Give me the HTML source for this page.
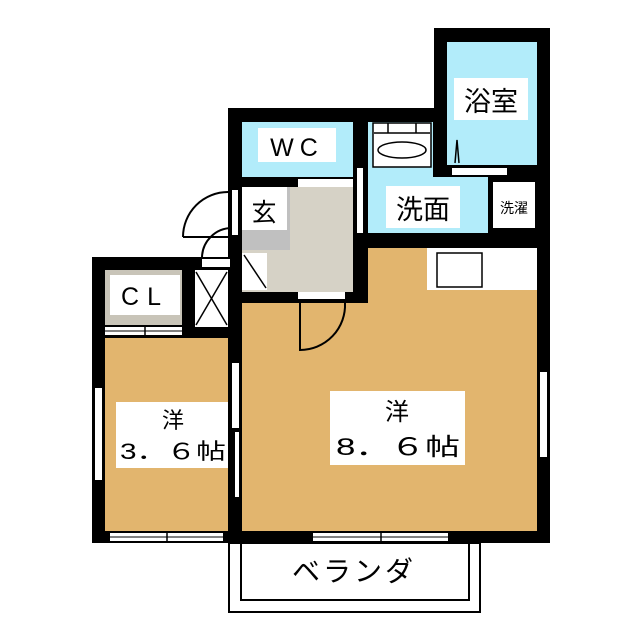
<!DOCTYPE html>
<html><head><meta charset="utf-8"><style>
html,body{margin:0;padding:0;background:#fff;}
svg{display:block;}
text{font-family:"Liberation Sans","Noto Sans CJK JP",sans-serif;fill:#000;}
</style></head><body>
<svg width="640" height="640" viewBox="0 0 640 640" xmlns="http://www.w3.org/2000/svg">
<rect x="434" y="28" width="116" height="220" fill="#000"/>
<rect x="228" y="108" width="322" height="435" fill="#000"/>
<rect x="92" y="257" width="150" height="286" fill="#000"/>
<rect x="447" y="42" width="90" height="123" fill="#b2ecfa"/>
<rect x="452" y="168" width="55" height="7" fill="#fff"/>
<path d="M455 163 L457 140 L459 163" fill="none" stroke="#000" stroke-width="1.5"/>
<rect x="242" y="122" width="111" height="55" fill="#b2ecfa"/>
<rect x="368" y="122" width="65" height="111" fill="#b2ecfa"/>
<rect x="368" y="177" width="120" height="56" fill="#b2ecfa"/>
<rect x="373" y="123" width="58" height="44" fill="#fff" stroke="#000" stroke-width="1.5"/>
<line x1="374" y1="133" x2="430" y2="133" stroke="#000" stroke-width="1.5"/>
<line x1="388" y1="123" x2="388" y2="133" stroke="#000" stroke-width="1.5"/>
<line x1="416" y1="123" x2="416" y2="133" stroke="#000" stroke-width="1.5"/>
<ellipse cx="402" cy="150" rx="24" ry="8" fill="#fff" stroke="#000" stroke-width="1.5"/>
<rect x="493" y="182" width="42" height="46" fill="#fff"/>
<rect x="357" y="168" width="6" height="65" fill="#fff"/>
<rect x="242" y="187" width="111" height="105" fill="#d6d2c6"/>
<rect x="242" y="187" width="48" height="63" fill="#c0c0c0"/>
<rect x="242" y="187" width="45" height="43" fill="#fff"/>
<rect x="242" y="253" width="25" height="37" fill="#fff"/>
<line x1="244" y1="255" x2="266" y2="288" stroke="#000" stroke-width="1.5"/>
<rect x="298" y="179" width="55" height="8" fill="#fff"/>
<rect x="298" y="292" width="47" height="7" fill="#fff"/>
<rect x="232" y="190" width="6" height="45" fill="#fff"/>
<path d="M183 237 A45 45 0 0 1 228 192" fill="none" stroke="#000" stroke-width="2"/>
<line x1="183" y1="237" x2="228" y2="237" stroke="#000" stroke-width="2"/>
<path d="M202 258 A30 30 0 0 1 232 228" fill="none" stroke="#000" stroke-width="2"/>
<rect x="202" y="259" width="28" height="8" fill="#fff"/>
<rect x="195" y="270" width="33" height="57" fill="#fff"/>
<line x1="196" y1="272" x2="227" y2="325" stroke="#000" stroke-width="1.5"/>
<line x1="227" y1="272" x2="196" y2="325" stroke="#000" stroke-width="1.5"/>
<rect x="105" y="270" width="77" height="55" fill="#c8c4b8"/>
<rect x="110" y="275" width="70" height="40" fill="#fff"/>
<rect x="105" y="327" width="77" height="8" fill="#fff"/>
<line x1="105" y1="331" x2="182" y2="331" stroke="#000" stroke-width="1"/>
<line x1="145" y1="325" x2="145" y2="338" stroke="#000" stroke-width="1.5"/>
<rect x="368" y="248" width="169" height="283" fill="#e2b56e"/>
<rect x="242" y="303" width="295" height="228" fill="#e2b56e"/>
<rect x="427" y="248" width="110" height="42" fill="#fff"/>
<rect x="437" y="253" width="45" height="34" fill="#fff" stroke="#000" stroke-width="1.5"/>
<path d="M300 303 L300 350 A45 45 0 0 0 345 303" fill="none" stroke="#000" stroke-width="2"/>
<rect x="105" y="338" width="123" height="193" fill="#e2b56e"/>
<rect x="95" y="388" width="7" height="92" fill="#fff"/>
<rect x="232" y="363" width="7" height="65" fill="#fff"/>
<rect x="235" y="432" width="4" height="65" fill="#fff"/>
<rect x="540" y="372" width="7" height="85" fill="#fff"/>
<rect x="110" y="533" width="113" height="8" fill="#fff"/>
<line x1="110" y1="537" x2="223" y2="537" stroke="#000" stroke-width="1"/>
<line x1="167" y1="531" x2="167" y2="543" stroke="#000" stroke-width="1.5"/>
<rect x="313" y="533" width="135" height="8" fill="#fff"/>
<line x1="313" y1="537" x2="448" y2="537" stroke="#000" stroke-width="1"/>
<line x1="381" y1="531" x2="381" y2="543" stroke="#000" stroke-width="1.5"/>
<rect x="229" y="543" width="251" height="69" fill="none" stroke="#000" stroke-width="2"/>
<rect x="241" y="543" width="228" height="57" fill="none" stroke="#000" stroke-width="2"/>
<rect x="454" y="78" width="74" height="42" fill="#fff"/>
<text x="491" y="111" font-size="27" text-anchor="middle">浴室</text>
<rect x="258" y="128" width="78" height="34" fill="#fff"/>
<text x="297" y="156" font-size="25" text-anchor="middle" letter-spacing="6">WC</text>
<text x="264" y="221" font-size="25" text-anchor="middle">玄</text>
<rect x="386" y="186" width="74" height="42" fill="#fff"/>
<text x="423" y="219" font-size="27" text-anchor="middle">洗面</text>
<text x="514" y="213" font-size="14" text-anchor="middle">洗濯</text>
<text x="145" y="305" font-size="25" text-anchor="middle" letter-spacing="8">CL</text>
<rect x="116" y="402" width="112" height="66" fill="#fff"/>
<text x="173" y="428" font-size="22" text-anchor="middle">洋</text>
<text x="120" y="459" font-size="22" textLength="106" lengthAdjust="spacingAndGlyphs">3．６帖</text>
<rect x="330" y="391" width="135" height="74" fill="#fff"/>
<text x="397" y="420" font-size="24" text-anchor="middle">洋</text>
<text x="336" y="455" font-size="24" textLength="124" lengthAdjust="spacingAndGlyphs">8．６帖</text>
<text x="354" y="581" font-size="28" text-anchor="middle" letter-spacing="3">ベランダ</text>
</svg>
</body></html>
